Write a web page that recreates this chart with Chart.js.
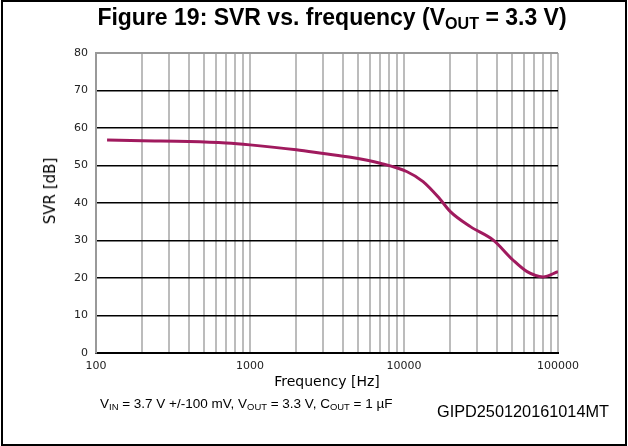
<!DOCTYPE html>
<html>
<head>
<meta charset="utf-8">
<script src="https://cdn.jsdelivr.net/npm/chart.js@4"></script>
<style>
    body { margin: 0; background: #fff; }
    #wrap { position: relative; width: 628px; height: 446px; overflow: hidden; }
    #frame { position: absolute; left: 1px; top: 0; width: 626px; height: 446px; border: 2px solid #000; box-sizing: border-box; }
    #chart { position: absolute; left: 0; top: 0; }
    .txt { position: absolute; font-family: "Liberation Sans", Arial, sans-serif; color: #000; white-space: nowrap; }
    #title { left: 32px; width: 600px; top: 4px; text-align: center; font-size: 23px; font-weight: bold; }
    #note { left: 100px; top: 396px; font-size: 13.5px; }
    #code { left: 437px; top: 402px; font-size: 16.3px; }
    #ytitle { left: 50px; top: 191px; font-family: "DejaVu Sans", sans-serif; font-size: 15px;
              transform: translate(-50%, -50%) rotate(-90deg); }
    sub { font-size: 70%; vertical-align: -0.25em; line-height: 0; }
</style>
</head>
<body>
<div id="wrap">
    <canvas id="chart" width="628" height="446"></canvas>
    <div class="txt" id="title">Figure 19: SVR vs. frequency (V<sub>OUT</sub> = 3.3 V)</div>
    <div class="txt" id="ytitle">SVR [dB]</div>
    <div class="txt" id="note">V<sub>IN</sub> = 3.7 V +/-100 mV, V<sub>OUT</sub> = 3.3 V, C<sub>OUT</sub> = 1 µF</div>
    <div class="txt" id="code">GIPD250120161014MT</div>
    <div id="frame"></div>
</div>
<script>
// Data
const freqHz = [118, 200, 400, 700, 1000, 2000, 3000, 4500, 7000, 10400, 13300, 17000, 20000, 27000, 38000, 51000, 63000, 80000, 100000];
const svrDb  = [56.8, 56.6, 56.4, 56.0, 55.5, 54.2, 53.2, 52.2, 50.6, 48.4, 45.7, 41.2, 37.7, 33.7, 30.1, 24.8, 21.7, 20.3, 21.7];
const yTicks = [0, 10, 20, 30, 40, 50, 60, 70, 80];
const decades = [100, 1000, 10000, 100000];

// grid positions 100,200,...,900,1000,... up to 100000
const xGrid = [];
decades.slice(0, 3).forEach(d => {
    for (let k = 1; k < 10; k++) xGrid.push(d * k);
});
xGrid.push(100000);

const tickFont = { family: 'DejaVu Sans', size: 11 };

const ctx = document.getElementById('chart').getContext('2d');
new Chart(ctx, {
    type: 'line',
    data: {
        datasets: [{
            data: freqHz.map((f, i) => ({ x: f, y: svrDb[i] })),
            borderColor: '#a01a5e',
            borderWidth: 3,
            pointRadius: 0,
            cubicInterpolationMode: 'monotone',
            fill: false
        }]
    },
    options: {
        responsive: false,
        animation: false,
        layout: { padding: { left: 30, right: 70, top: 53, bottom: 55 } },
        plugins: { legend: { display: false }, tooltip: { enabled: false } },
        scales: {
            x: {
                type: 'logarithmic',
                min: 100,
                max: 100000,
                afterBuildTicks: axis => { axis.ticks = xGrid.map(v => ({ value: v })); },
                afterFit: axis => { axis.height = 38; },
                ticks: {
                    autoSkip: false,
                    maxRotation: 0,
                    color: '#222',
                    font: tickFont,
                    padding: 7,
                    callback: v => decades.includes(v) ? String(v) : ''
                },
                grid: {
                    color: '#bcbcbc',
                    lineWidth: 2,
                    drawTicks: false
                },
                border: { color: '#000', width: 2 },
                title: {
                    display: true,
                    text: 'Frequency [Hz]',
                    color: '#000',
                    font: { family: 'DejaVu Sans', size: 14 },
                    padding: { top: 0, bottom: 0 }
                }
            },
            y: {
                min: 0,
                max: 80,
                afterBuildTicks: axis => { axis.ticks = yTicks.map(v => ({ value: v })); },
                afterFit: axis => { axis.width = 66; },
                ticks: {
                    color: '#222',
                    font: tickFont,
                    padding: 8
                },
                grid: {
                    color: c => c.tick && c.tick.value === 80 ? '#999' : '#000',
                    lineWidth: c => c.tick && c.tick.value === 80 ? 2 : 1.5,
                    drawTicks: false
                },
                border: { color: '#999', width: 2 }
            }
        }
    }
});
</script>
</body>
</html>
